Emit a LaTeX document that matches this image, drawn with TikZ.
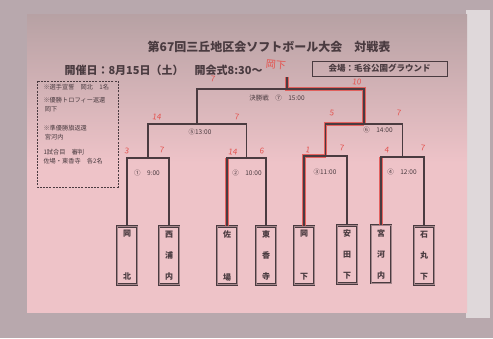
\documentclass[tikz,border=0pt]{standalone}
\usepackage{fontspec}
\newfontfamily\jp{Noto Sans CJK JP}
\definecolor{paper}{HTML}{EEC3C8}
\definecolor{frame}{HTML}{B8A8AD}
\definecolor{ink}{HTML}{4A3B40}
\definecolor{pen}{HTML}{E4524E}
\tikzset{
  team/.style={draw=ink, double=ink!45!paper, double distance=0.9pt, line width=0.9pt,
    minimum width=20pt, minimum height=58pt, inner sep=0pt, text=ink, align=center,
    font=\jp\bfseries\fontsize{8}{10}\selectfont},
  bar/.style={ink, line width=1.4pt},
  win/.style={pen, line width=3.2pt, opacity=0.85},
  score/.style={pen, font=\jp\fontsize{8}{8}\selectfont, rotate=-8},
  time/.style={ink, font=\jp\fontsize{6.5}{7}\selectfont},
  memo/.style={ink, anchor=west, align=left, font=\jp\fontsize{6.2}{9}\selectfont}
}
\begin{document}
\begin{tikzpicture}[x=1pt,y=-1pt]
        \useasboundingbox (0,0) rectangle (493,338);
        \fill[frame] (0,0) rectangle (493,338);
        \fill[frame!45!white] (466,10) rectangle (490,318);
        \shade[top color=paper!50!gray, bottom color=paper, middle color=paper] (27,14) rectangle (467,312);

        % heading
        \node[ink, font=\jp\bfseries\fontsize{12}{12}\selectfont] (title) at (269,47) {第67回三丘地区会ソフトボール大会　対戦表};
        \node[ink, anchor=west, font=\jp\bfseries\fontsize{11}{11}\selectfont] (date) at (61,70) {開催日：8月15日（土）　開会式8:30〜};
        \node[draw=ink, line width=1pt, minimum width=135pt, minimum height=15pt, ink,
              font=\jp\bfseries\fontsize{8.5}{9}\selectfont] (venue) at (379.5,68.5) {会場：毛谷公園グラウンド};

        % notes
        \draw[ink, line width=1pt, dash pattern=on 2pt off 1.2pt] (37,81) rectangle (118,187);
        \node[memo] (n1) at (40,87) {※選手宣誓　岡北　1名};
        \node[memo] (n2) at (40,105) {※優勝トロフィー返還\\\ 岡下};
        \node[memo] (n3) at (40,133) {※準優勝旗返還\\\ 宮河内};
        \node[memo] (n4) at (40,157) {1試合目　審判\\佐場・東香寺　各2名};

        % teams
        \node[team] (t1) at (127,255.5) {岡\\[33pt]北};
        \node[team] (t2) at (169,255.5) {西\\[11pt]浦\\[11pt]内};
        \node[team] (t3) at (227,255.5) {佐\\[33pt]場};
        \node[team] (t4) at (266,255.5) {東\\[11pt]香\\[11pt]寺};
        \node[team] (t5) at (304,255.5) {岡\\[33pt]下};
        \node[team] (t6) at (347,254.5) {安\\[11pt]田\\[11pt]下};
        \node[team] (t7) at (381,254) {宮\\[11pt]河\\[11pt]内};
        \node[team] (t8) at (424,255.5) {石\\[11pt]丸\\[11pt]下};

        \coordinate (m1) at (148,158);
        \coordinate (m2) at (246.5,158);
        \coordinate (m3) at (325.5,156);
        \coordinate (m4) at (402.5,157);
        \coordinate (m5) at (197,124);
        \coordinate (m6) at (364,124);
        \coordinate (m7) at (287,89);
        \coordinate (champ) at (287,77);

        % winners in red pen
        \draw[win] (t3.north) -- (t3.north |- m2);
        \draw[win] (t7.north) -- (t7.north |- m4);
        \draw[win] (t5.north) |- (m3);
        \draw[win] (m3) |- (m6);
        \draw[win] (m6) |- (m7) -- (champ);

        % bracket
        \draw[bar] (t1.north) |- (m1) -| (t2.north);
        \draw[bar] (t3.north) |- (m2) -| (t4.north);
        \draw[bar] (t5.north) |- (m3) -| (t6.north);
        \draw[bar] (t7.north) |- (m4) -| (t8.north);
        \draw[bar] (m1) |- (m5) -| (m2);
        \draw[bar] (m3) |- (m6) -| (m4);
        \draw[bar] (m5) |- (m7) -| (m6);
        \draw[bar] (m7) -- (champ);

        \node[time] (g1) at (147,173) {①　9:00};
        \node[time] (g2) at (247,173) {②　10:00};
        \node[time] (g3) at (325,172) {③11:00};
        \node[time] (g4) at (402,172) {④　12:00};
        \node[time] (g5) at (200,132) {⑤13:00};
        \node[time] (g6) at (378,130) {⑥　14:00};
        \node[time] (g7) at (277,98) {決勝戦　⑦　15:00};

        % scores
        \node[pen, font=\jp\fontsize{10}{10}\selectfont, rotate=-5] (win) at (276,65) {岡下};
        \node[score] at (213,79) {7};
        \node[score] at (357,82) {10};
        \node[score] at (157,117) {14};
        \node[score] at (237,117) {7};
        \node[score] at (332,113) {5};
        \node[score] at (399,113) {7};
        \node[score] at (127,151) {3};
        \node[score] at (162,150) {7};
        \node[score] at (233,152) {14};
        \node[score] at (262,151) {6};
        \node[score] at (308,150) {1};
        \node[score] at (342,148) {7};
        \node[score] at (387,150) {4};
        \node[score] at (423,148) {7};
\end{tikzpicture}
\end{document}
